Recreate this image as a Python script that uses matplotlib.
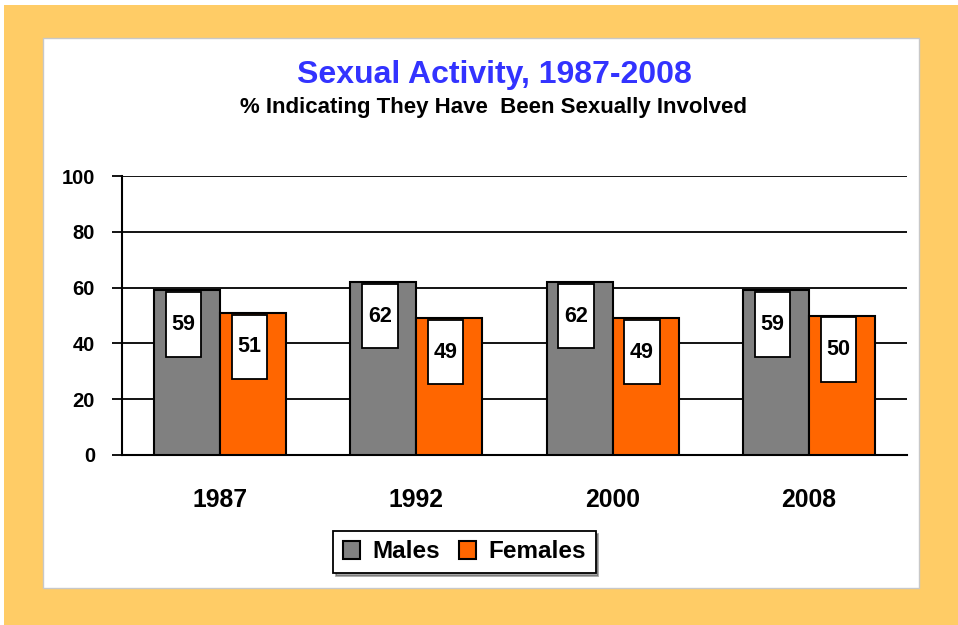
import matplotlib
matplotlib.use("Agg")
import matplotlib.pyplot as plt
from matplotlib.patches import Rectangle
import numpy as np

years = ["1987", "1992", "2000", "2008"]
males = [59, 62, 62, 59]
females = [51, 49, 49, 50]
series_names = ["Males", "Females"]

W, H = 958, 625
fig = plt.figure(figsize=(W / 100, H / 100), dpi=100)
fig.patch.set_facecolor("#FFCC66")
plt.rcParams['font.family'] = ['Liberation Sans', 'DejaVu Sans']

def px(x0, y0, x1, y1):
    return (x0 / W, 1 - y1 / H, (x1 - x0) / W, (y1 - y0) / H)

# white strips at top/left edges
for r in [px(0, 0, W, 5), px(0, 0, 4, H)]:
    fig.patches.append(Rectangle(r[:2], r[2], r[3], transform=fig.transFigure,
                                 facecolor="white", edgecolor="none", zorder=-5))
# white panel
r = px(43, 38, 919, 588)
fig.patches.append(Rectangle(r[:2], r[2], r[3], transform=fig.transFigure,
                             facecolor="white", edgecolor="#C8C8C8", lw=1, zorder=-5))

ax = fig.add_axes(px(122, 176, 907, 455))
ax.set_zorder(2)
ax.set_facecolor("none")
x = np.arange(len(years))
bw = 0.336
bm = ax.bar(x - bw / 2, males, bw, color="#808080", edgecolor="black", lw=1.5, zorder=3, label=series_names[0])
bf = ax.bar(x + bw / 2, females, bw, color="#FF6600", edgecolor="black", lw=1.5, zorder=3, label=series_names[1])

ax.set_xlim(-0.5, 3.5)
ax.set_ylim(0, 100)
ax.set_yticks(range(0, 101, 20))
ax.yaxis.grid(True, color="black", lw=1.3, zorder=1)
ax.set_axisbelow(True)
for s in ["top", "right"]:
    ax.spines[s].set_visible(False)
ax.spines["left"].set_linewidth(1.5)
ax.spines["bottom"].set_linewidth(1.5)
ax.tick_params(axis="y", length=7, width=1.3, pad=12.5)
ax.tick_params(axis="x", length=0, pad=24)
ax.set_xticks(x)
ax.set_xticklabels(years, fontweight="bold", fontsize=17.8)
ax.set_yticklabels([str(v) for v in range(0, 101, 20)], fontweight="bold", fontsize=14.5)

bh = 23
boxw = 0.18
for xs, vals in [(x - bw / 2, males), (x + bw / 2, females)]:
    for xi, v in zip(xs, vals):
        cx = xi - 0.018
        ax.add_patch(Rectangle((cx - boxw / 2, v - 0.7 - bh), boxw, bh,
                               facecolor="white", edgecolor="black", lw=1.3, zorder=4))
        ax.text(cx, v - 0.7 - bh / 2, str(v), ha="center", va="center",
                fontsize=15.5, fontweight="bold", zorder=5)

fig.text(494 / W, 1 - 75 / H, "Sexual Activity, 1987-2008", ha="center", va="center",
         fontsize=23, fontweight="bold", color="#3333FF")
fig.text(494 / W, 1 - 108 / H, "% Indicating They Have  Been Sexually Involved", ha="center",
         va="center", fontsize=16, fontweight="bold", color="black")

leg = fig.legend(loc="center", bbox_to_anchor=(464.5 / W, 1 - 552 / H), ncol=2,
                 prop={"weight": "bold", "size": 17.5}, frameon=True,
                 fancybox=False, shadow=True, edgecolor="black",
                 handlelength=0.7, handleheight=0.7, handletextpad=0.5,
                 columnspacing=0.8, borderpad=0.4)
leg.get_frame().set_linewidth(1.3)

fig.savefig("out.png", dpi=100, facecolor=fig.get_facecolor())
